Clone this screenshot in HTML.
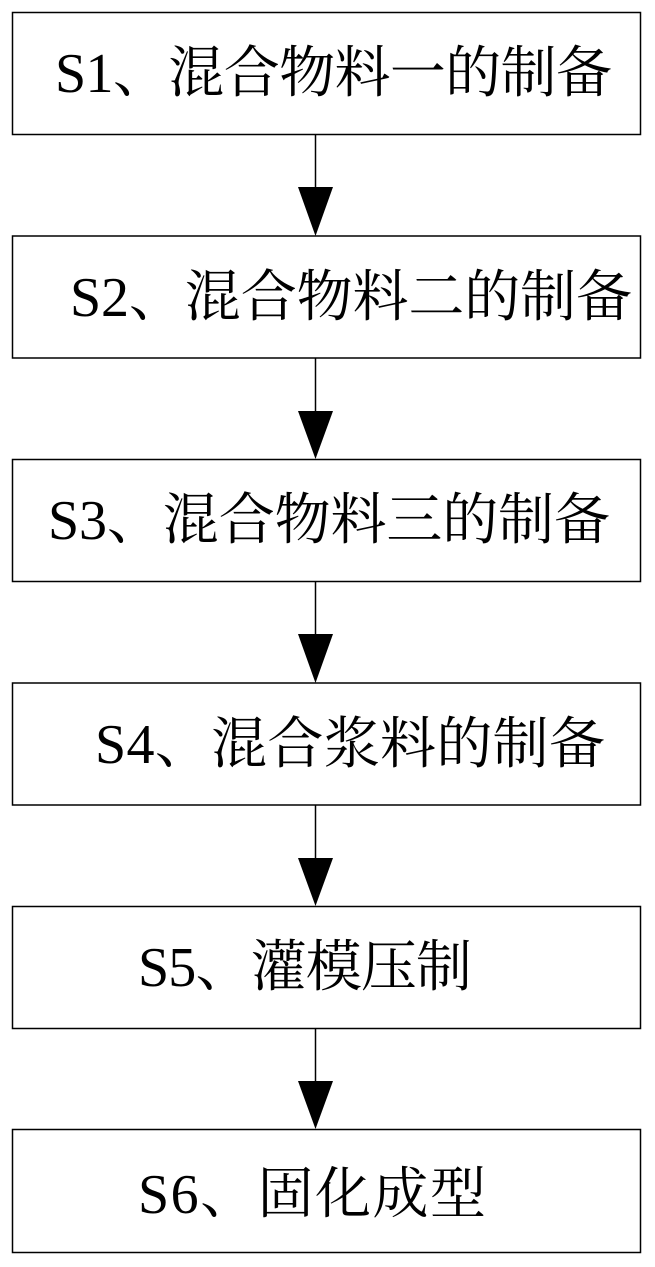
<!DOCTYPE html>
<html><head><meta charset="utf-8"><style>
html,body{margin:0;padding:0;background:#fff;}
svg{display:block;}
text{font-family:"Liberation Serif","Noto Serif CJK SC",serif;font-size:56px;fill:#000;}
</style></head><body>
<svg width="655" height="1267" viewBox="0 0 655 1267" xmlns="http://www.w3.org/2000/svg">
<g fill="none" stroke="#000" stroke-width="1.5">
<rect x="12.5" y="12.5" width="628" height="122"/>
<rect x="12.5" y="236" width="628" height="122"/>
<rect x="12.5" y="459.5" width="628" height="122"/>
<rect x="12.5" y="683" width="628" height="122"/>
<rect x="12.5" y="906.5" width="628" height="122"/>
<rect x="12.5" y="1129.5" width="628" height="123"/>
<line x1="315.5" y1="134" x2="315.5" y2="190"/>
<line x1="315.5" y1="358" x2="315.5" y2="413"/>
<line x1="315.5" y1="581" x2="315.5" y2="637"/>
<line x1="315.5" y1="805" x2="315.5" y2="860"/>
<line x1="315.5" y1="1028" x2="315.5" y2="1083"/>
</g>
<g fill="#000">
<polygon points="298,187 333,187 315.5,236"/>
<polygon points="298,411 333,411 315.5,459"/>
<polygon points="298,634 333,634 315.5,683"/>
<polygon points="298,858 333,858 315.5,906"/>
<polygon points="298,1081 333,1081 315.5,1129"/>
</g>
<text x="55" y="92" textLength="557" lengthAdjust="spacing">S1、混合物料一的制备</text>
<text x="70" y="316" textLength="562" lengthAdjust="spacing">S2、混合物料二的制备</text>
<text x="48" y="539" textLength="562" lengthAdjust="spacing">S3、混合物料三的制备</text>
<text x="95" y="763" textLength="510" lengthAdjust="spacing">S4、混合浆料的制备</text>
<text x="138" y="986" textLength="334" lengthAdjust="spacing">S5、灌模压制</text>
<text x="138" y="1213" textLength="348" lengthAdjust="spacing">S6、固化成型</text>
</svg>
</body></html>
